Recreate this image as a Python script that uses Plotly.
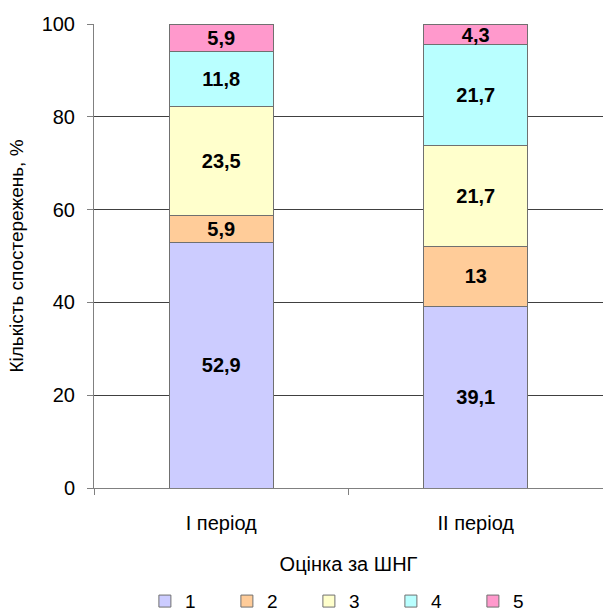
import plotly.graph_objects as go

categories = ["I період", "II період"]
series_names = ["1", "2", "3", "4", "5"]
values_1 = [52.9, 39.1]
values_2 = [5.9, 13]
values_3 = [23.5, 21.7]
values_4 = [11.8, 21.7]
values_5 = [5.9, 4.3]
colors = ["#CCCCFF", "#FFCC99", "#FFFFCC", "#B9FFFF", "#FF99CC"]
y_ticks = [0, 20, 40, 60, 80, 100]

all_values = [values_1, values_2, values_3, values_4, values_5]

def fmt(v):
    return f"{v:g}".replace(".", ",")

FONT = "Liberation Sans, Arial"

fig = go.Figure()
for name, vals, col in zip(series_names, all_values, colors):
    fig.add_trace(go.Bar(
        x=categories, y=vals, name=name,
        marker=dict(color=col, line=dict(color="#707070", width=1)),
        text=[fmt(v) for v in vals],
        textposition="inside", insidetextanchor="middle",
        textangle=0,
        textfont=dict(family=FONT, size=20, color="black", weight="bold"),
    ))

fig.update_layout(
    template="none",
    barmode="stack",
    bargap=0.59,
    width=603, height=613,
    margin=dict(l=94, r=0, t=24, b=125, autoexpand=False),
    plot_bgcolor="white", paper_bgcolor="white",
    font=dict(family=FONT, size=20, color="black"),
    uniformtext=dict(minsize=20, mode="show"),
    showlegend=True,
    legend=dict(
        orientation="h", x=0.1, xanchor="left", y=-0.244, yanchor="middle",
        traceorder="normal", font=dict(size=19),
        entrywidth=37, entrywidthmode="pixels",
        itemwidth=30, bgcolor="rgba(0,0,0,0)",
    ),
)
fig.update_xaxes(
    automargin=False,
    showline=True, linecolor="#808080", linewidth=1,
    ticks="outside", tickson="boundaries", ticklen=6, tickcolor="#808080",
    range=[-0.5, 1.5], showgrid=False,
    ticklabelstandoff=17,
    title=dict(text="Оцінка за ШНГ", standoff=23, font=dict(size=20)),
    tickfont=dict(size=20),
)
fig.update_yaxes(
    automargin=False,
    range=[0, 100], tickvals=y_ticks,
    showline=True, linecolor="#808080", linewidth=1,
    ticks="outside", ticklen=6, tickcolor="#808080",
    showgrid=True, gridcolor="#404040", gridwidth=1,
    zeroline=False,
    ticklabelstandoff=8,
    title=dict(text="Кількість спостережень, %", standoff=12, font=dict(size=19)),
    tickfont=dict(size=20),
)

fig.write_html(
    "out.html",
    config={"displayModeBar": False},
    post_script="document.body.style.margin='0';document.body.style.overflow='hidden';",
)
